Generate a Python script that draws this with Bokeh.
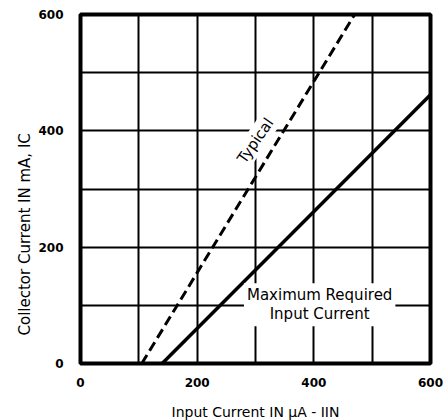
from bokeh.plotting import figure
from bokeh.models import FixedTicker, Label, Range1d, Title
from bokeh.embed import file_html
from bokeh.resources import INLINE

# ---- data ----
typical_x = [105, 470]
typical_y = [0, 600]
maxreq_x = [140, 600]
maxreq_y = [0, 462]
tick_values = [0, 200, 400, 600]
grid_values = [0, 100, 200, 300, 400, 500, 600]
x_title = "Input Current IN µA - IIN"
y_title = "Collector Current IN mA, IC"
typical_text = "Typical"
maxreq_text = "Maximum Required\nInput Current"

FONT = "DejaVu Sans"

p = figure(frame_width=350, frame_height=349,
           x_range=Range1d(0, 600), y_range=Range1d(0, 600),
           output_backend="svg", toolbar_location=None,
           min_border_left=80, min_border_right=16,
           min_border_top=14, min_border_bottom=57)
p.outline_line_color = "black"
p.outline_line_width = 4
p.outline_line_alpha = 1
p.background_fill_color = "white"
p.border_fill_color = "white"

for ax in (p.xaxis, p.yaxis):
    ax.ticker = FixedTicker(ticks=tick_values)
    ax.axis_line_color = None
    ax.major_tick_line_color = None
    ax.minor_tick_line_color = None
    ax.major_label_text_font = FONT
    ax.major_label_text_font_style = "bold"
    ax.major_label_text_font_size = "12px"
    ax.major_label_text_color = "black"
p.xaxis.major_label_standoff = 8
p.yaxis.major_label_standoff = 11

p.xaxis.axis_label = x_title
p.xaxis.axis_label_text_font = FONT
p.xaxis.axis_label_text_font_style = "normal"
p.xaxis.axis_label_text_font_size = "14px"
p.xaxis.axis_label_text_color = "black"
p.xaxis.axis_label_standoff = 14

p.add_layout(Title(text=y_title, align="left", offset=28,
                   text_font=FONT, text_font_style="normal",
                   text_font_size="15px", text_color="black",
                   standoff=4), "left")

for g in (p.xgrid, p.ygrid):
    g.ticker = FixedTicker(ticks=grid_values)
    g.grid_line_color = "black"
    g.grid_line_width = 2
    g.grid_line_alpha = 1

p.line(typical_x, typical_y, line_dash="10 5", line_width=3, color="black")
p.line(maxreq_x, maxreq_y, line_width=3.5, color="black")

p.add_layout(Label(x=300, y=383, text=typical_text, angle=0.96,
                   text_align="center", text_baseline="middle",
                   text_font=FONT, text_font_size="15px", text_color="black",
                   background_fill_color="white", padding=2))
p.add_layout(Label(x=410, y=101, text=maxreq_text,
                   text_align="center", text_baseline="middle",
                   text_font=FONT, text_font_size="15px", text_color="black",
                   text_line_height=1.05,
                   background_fill_color="white", padding=3))

open("out.html", "w").write(file_html(p, INLINE))
